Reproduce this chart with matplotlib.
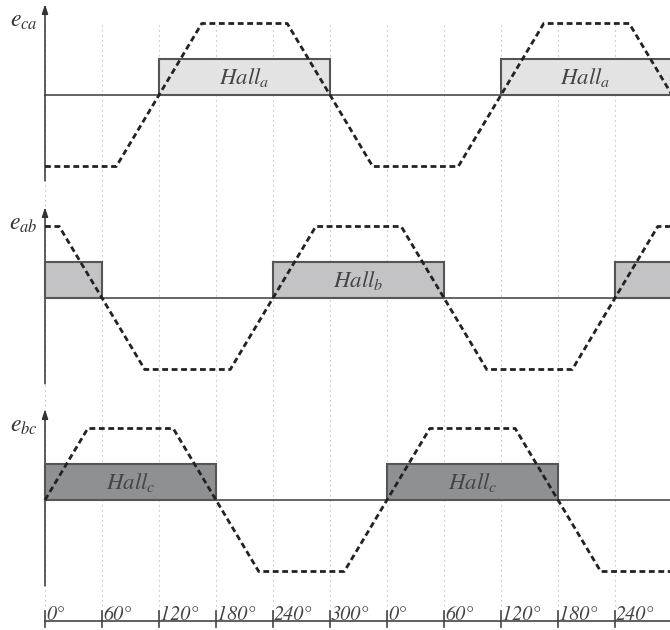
import numpy as np
import matplotlib
matplotlib.use("Agg")
import matplotlib.pyplot as plt
from matplotlib.patches import Rectangle

plt.rcParams["mathtext.fontset"] = "stix"

# Trapezoidal line-to-line back-EMF, corner points (electrical degrees, per-unit)
eca_deg = [0, 75, 165, 255, 345, 435, 525, 615, 705]
eca_val = [-1, -1, 1, 1, -1, -1, 1, 1, -1]
eab_deg = [0, 15, 105, 195, 285, 375, 465, 555, 645, 705]
eab_val = [1, 1, -1, -1, 1, 1, -1, -1, 1, 1]
ebc_deg = [0, 45, 135, 225, 315, 405, 495, 585, 675, 705]
ebc_val = [0, 1, 1, -1, -1, 1, 1, -1, -1, -1]

# Hall sensor high intervals (start, end) in degrees
hall_a = [(120, 300), (480, 700)]
hall_b = [(0, 60), (240, 420), (600, 700)]
hall_c = [(0, 180), (360, 540)]
hall_a_text = [210, 569]
hall_b_text = [330]
hall_c_text = [90, 450]
hall_level = 0.5

tick_deg = [0, 60, 120, 180, 240, 300, 360, 420, 480, 540, 600]
tick_labels = ["0°", "60°", "120°", "180°", "240°", "300°",
               "0°", "60°", "120°", "180°", "240°"]

panels = [
    (r"$e_{ca}$", eca_deg, eca_val, hall_a, hall_a_text, r"$Hall_a$", "#e3e3e3"),
    (r"$e_{ab}$", eab_deg, eab_val, hall_b, hall_b_text, r"$Hall_b$", "#c3c3c6"),
    (r"$e_{bc}$", ebc_deg, ebc_val, hall_c, hall_c_text, r"$Hall_c$", "#8f9092"),
]

px = 71.5  # pixels per per-unit
W, H = 670, 630
deg_per_px = 60 / 57
x0, x1 = -45 * deg_per_px, (W - 45) * deg_per_px
base_px = [95, 298, 500]
baselines = [(H - b) / px for b in base_px]
axis_y = (H - 621) / px
grid_top = (H - 25) / px

fig = plt.figure(figsize=(6.7, 6.3), dpi=100)
ax = fig.add_axes([0, 0, 1, 1])
ax.set_xlim(x0, x1)
ax.set_ylim(0, H / px)
ax.axis("off")

# dotted vertical grid across all panels
for d in tick_deg:
    ax.plot([d, d], [axis_y, grid_top], color="#b0b0b0", lw=0.8,
            ls=(0, (1, 3.5)), zorder=1)

for (name, deg, val, hall, htext, hname, fill), b in zip(panels, baselines):
    # zero line
    ax.plot([0, x1], [b, b], color="#3a3a3a", lw=1.1, zorder=2)
    # vertical axis with arrowhead
    ax.annotate("", xy=(0, b + 1.27), xytext=(0, b - 1.2),
                arrowprops=dict(arrowstyle="-|>,head_length=0.55,head_width=0.18",
                                color="#333333", lw=1.1, shrinkA=0, shrinkB=0),
                zorder=3)
    ax.text(-7.5, b + 1.05, name, ha="right", va="center", fontsize=17,
            color="#333333")
    # Hall signal blocks
    for s, e in hall:
        ax.add_patch(Rectangle((s, b), e - s, hall_level, facecolor=fill,
                               edgecolor="#555555", lw=1.5, zorder=3))
    for c in htext:
        ax.text(c, b + hall_level / 2, hname, ha="center", va="center",
                fontsize=16.5, color="#444444", zorder=4)
    # back-EMF waveform
    ax.plot(deg, np.array(val) + b, color="#222222", lw=2.0,
            dashes=(2.1, 1.3), zorder=5, solid_joinstyle="round")

# angle axis at the bottom
ax.plot([0, x1], [axis_y, axis_y], color="#444444", lw=1.2)
for d, lab in zip(tick_deg, tick_labels):
    ax.plot([d, d], [axis_y - 6 / px, axis_y + 10 / px], color="#444444", lw=1.2)
    ax.text(d + 1.2, axis_y + 1.5 / px, lab, ha="left", va="baseline",
            fontsize=14.5, family="STIXGeneral", style="italic", color="#444444")

fig.savefig("out.png", dpi=100)
